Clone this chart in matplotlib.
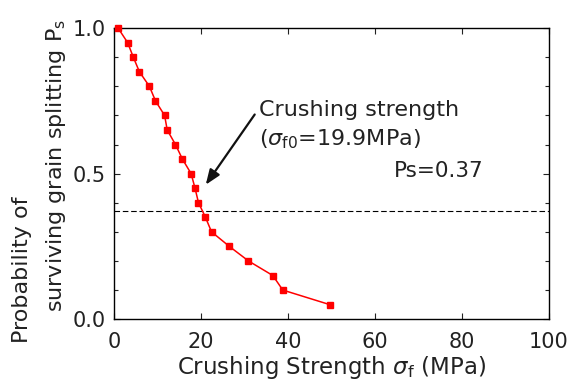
import matplotlib
matplotlib.use("Agg")
import matplotlib.pyplot as plt
from matplotlib.ticker import MultipleLocator

plt.rcParams['font.family'] = ['DejaVu Sans']
plt.rcParams['mathtext.fontset'] = 'dejavusans'

strength = [0.9, 3.1, 4.4, 5.8, 8.1, 9.5, 11.6, 12.2, 14.1, 15.7,
            17.7, 18.6, 19.4, 21.0, 22.4, 26.5, 30.9, 36.5, 38.8, 49.6]
prob = [1.0, 0.95, 0.9, 0.85, 0.8, 0.75, 0.7, 0.65, 0.6, 0.55,
        0.5, 0.45, 0.4, 0.35, 0.3, 0.25, 0.2, 0.15, 0.1, 0.05]
ps_level = 0.37
sigma_f0 = 19.9

TXT = '#222222'

fig = plt.figure(figsize=(5.71, 3.85), dpi=100)
ax = fig.add_axes([0.200, 0.171, 0.761, 0.756])

ax.plot(strength, prob, color='red', lw=1.1, marker='s', markersize=5,
        markerfacecolor='red', markeredgecolor='red', clip_on=False, zorder=3)
ax.axhline(ps_level, color='black', lw=0.8, ls=(0, (5, 2.5)))

ax.set_xlim(0, 100)
ax.set_ylim(0, 1.0)
ax.xaxis.set_major_locator(MultipleLocator(20))
ax.yaxis.set_minor_locator(MultipleLocator(0.1))
ax.set_yticks([0.0, 0.5, 1.0])
ax.set_yticklabels(['0.0', '0.5', '1.0'])
ax.tick_params(axis='both', which='both', direction='in', top=True, right=True,
               labelsize=15, colors=TXT, length=4, width=0.8)
ax.tick_params(axis='y', which='minor', length=3)
ax.tick_params(axis='y', which='major', pad=6)
ax.tick_params(axis='x', which='major', pad=9.5)
for s in ax.spines.values():
    s.set_linewidth(1.0)

ax.set_xlabel(r'Crushing Strength $\sigma_{\rm f}$ (MPa)', fontsize=16.5,
              color=TXT, labelpad=1)

fig.text(22 / 571, 1 - 270 / 385, 'Probability of', rotation=90, fontsize=16,
         color=TXT, ha='center', va='center')
fig.text(56 / 571, 1 - 165 / 385, r'surviving grain splitting P$_{\rm s}$',
         rotation=90, fontsize=16, color=TXT, ha='center', va='center')

ax.annotate('', xy=(20.7, 0.454), xytext=(32.7, 0.711),
            arrowprops=dict(arrowstyle='-|>,head_length=0.9,head_width=0.35',
                            color='#111111', lw=1.6))
ax.text(33.4, 0.72, 'Crushing strength', fontsize=16, color=TXT,
        va='center', ha='left')
ax.text(33.4, 0.62, r'($\sigma_{\rm f0}$=19.9MPa)', fontsize=16,
        color=TXT, va='center', ha='left')
ax.text(64.4, 0.51, 'Ps=0.37', fontsize=15.5, color=TXT,
        va='center', ha='left')

fig.savefig('out.png', dpi=100)
